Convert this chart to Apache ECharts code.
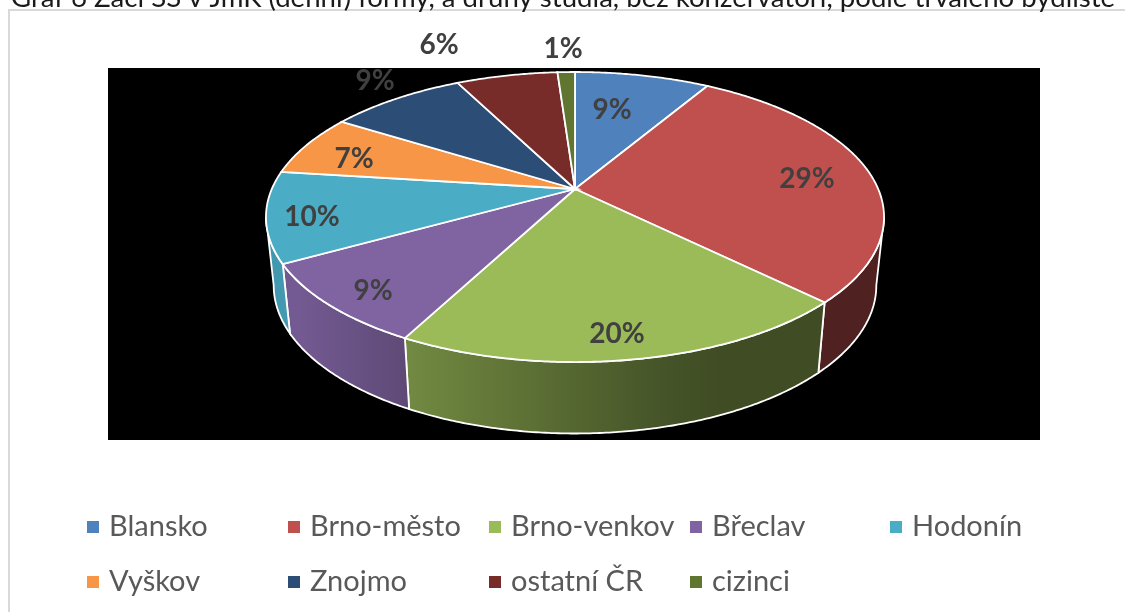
<!DOCTYPE html>
<html>
<head>
<meta charset="utf-8" />
<title>Graf</title>
<script src="https://cdn.jsdelivr.net/npm/echarts@6/dist/echarts.min.js"></script>
<style>
  html, body { margin: 0; padding: 0; background: #fff; }
  #main { width: 1125px; height: 612px; }
</style>
</head>
<body>
<div id="main"></div>
<script>
var caption = 'Graf 6 Žáci SŠ v JmK (denní) formy, a druhy studia, bez konzervatoří, podle trvalého bydliště';
var categories = ['Blansko', 'Brno-město', 'Brno-venkov', 'Břeclav', 'Hodonín', 'Vyškov', 'Znojmo', 'ostatní ČR', 'cizinci'];
var shares = [8.5, 28.9, 20.3, 9.2, 10.1, 6.9, 8.6, 6.4, 1.1];
var colors = ['#4F81BD', '#C0504D', '#9BBB59', '#8064A2', '#4BACC6', '#F79646', '#2C4D75', '#772C2A', '#5F7530'];

// where the percent labels sit, the same order as categories
var labelPos = [[612, 110], [807, 179], [617, 334], [373, 291], [312, 217], [354, 159], [375, 81], [439, 45], [563, 49]];
// legend columns, indexes into categories
var legendCols = [[0, 5], [1, 6], [2, 7], [3, 8], [4]];
var legendLeft = [87, 288, 489, 690, 890];

// pie geometry, a tilted disc with some perspective
var cx = 575, cy = 189, R = 303.2, A = 139.6, k = 0.1932, depth = 68, bottomX = 0.975, bottomY = 1.02;
var wallFrom = 101.1, wallTo = 258.9;
var sideShade = [[270, 0.88], [300, 0.9], [410, 0.73], [600, 0.52], [700, 0.41], [900, 0.41]];

var total = 0;
for (var i = 0; i < shares.length; i++) total += shares[i];

function project(deg, lower) {
  var t = deg * Math.PI / 180;
  var u = Math.sin(t), v = -Math.cos(t);
  var s = 1 / (1 - k * v);
  if (lower) return [cx + R * u * s * bottomX, cy + A * v * s * bottomY + depth];
  return [cx + R * u * s, cy + A * v * s];
}

function shadeAt(x) {
  for (var i = 1; i < sideShade.length; i++) {
    if (x <= sideShade[i][0]) {
      var a = sideShade[i - 1], b = sideShade[i];
      return a[1] + (b[1] - a[1]) * Math.max(0, x - a[0]) / (b[0] - a[0]);
    }
  }
  return sideShade[sideShade.length - 1][1];
}

function darken(hex, f) {
  var n = parseInt(hex.slice(1), 16);
  return 'rgb(' + Math.round((n >> 16 & 255) * f) + ',' + Math.round((n >> 8 & 255) * f) + ',' + Math.round((n & 255) * f) + ')';
}

function sliceItem(idx, start, end) {
  var a = start / total * 360, b = end / total * 360;
  var color = colors[idx];
  var top = [[cx, cy]];
  for (var d = a; d < b; d += 0.5) top.push(project(d));
  top.push(project(b));

  var children = [];
  // the wall only shows on the near half, between the two widest points
  var sa = Math.max(a, wallFrom), sb = Math.min(b, wallTo);
  if (sa < sb) {
    var upper = [], lower = [];
    for (var e = sa; e < sb; e += 0.5) { upper.push(project(e)); lower.push(project(e, true)); }
    upper.push(project(sb)); lower.push(project(sb, true));
    var x0 = 1e9, x1 = -1e9;
    lower.concat(upper).forEach(function (p) { x0 = Math.min(x0, p[0]); x1 = Math.max(x1, p[0]); });
    var stops = [];
    for (var n = 0; n <= 8; n++) {
      stops.push({ offset: n / 8, color: darken(color, shadeAt(x0 + (x1 - x0) * n / 8)) });
    }
    children.push({
      type: 'polygon',
      z2: 1,
      shape: { points: upper.concat(lower.reverse()) },
      style: {
        fill: new echarts.graphic.LinearGradient(x0, 0, x1, 0, stops, true),
        stroke: '#fff',
        lineWidth: 1.8
      }
    });
  }
  children.push({
    type: 'polygon',
    z2: 2,
    shape: { points: top },
    style: { fill: color, stroke: '#fff', lineWidth: 1.8 }
  });
  children.push({
    type: 'text',
    z2: 3,
    style: {
      x: labelPos[idx][0],
      y: labelPos[idx][1],
      text: Math.round(shares[idx]) + '%',
      fill: '#404040',
      font: 'bold 28px Lato',
      align: 'center',
      verticalAlign: 'middle'
    }
  });
  return { type: 'group', children: children };
}

var series = [];
var running = 0;
categories.forEach(function (name, idx) {
  var start = running;
  running += shares[idx];
  series.push({
    type: 'custom',
    name: name,
    coordinateSystem: 'none',
    silent: true,
    animation: false,
    itemStyle: { color: colors[idx] },
    data: [[start, running]],
    renderItem: function (params, api) {
      return sliceItem(idx, api.value(0), api.value(1));
    }
  });
});

var legends = legendCols.map(function (col, c) {
  return {
    orient: 'vertical',
    left: legendLeft[c],
    top: 512,
    padding: 0,
    itemGap: 25,
    itemWidth: 12,
    itemHeight: 12,
    icon: 'rect',
    selectedMode: false,
    data: col.map(function (i) { return categories[i]; }),
    textStyle: { fontFamily: 'Lato', fontSize: 29, color: '#595959', lineHeight: 30, padding: [0, 0, 0, 5] }
  };
});

var chart = echarts.init(document.getElementById('main'));
chart.setOption({
  backgroundColor: '#fff',
  animation: false,
  title: {
    text: caption,
    left: 6,
    top: -21,
    textStyle: { fontFamily: 'Lato', fontWeight: 'normal', fontSize: 27.6, color: '#1a1a1a' }
  },
  legend: legends,
  graphic: [
    { type: 'rect', z: -1, shape: { x: 8, y: 9, width: 2, height: 603 }, style: { fill: '#D9D9D9' } },
    { type: 'rect', z: -1, shape: { x: 8, y: 9, width: 1117, height: 2 }, style: { fill: '#D9D9D9' } },
    { type: 'rect', z: -1, shape: { x: 108, y: 68, width: 932, height: 372 }, style: { fill: '#000' } }
  ],
  series: series
});
</script>
</body>
</html>
